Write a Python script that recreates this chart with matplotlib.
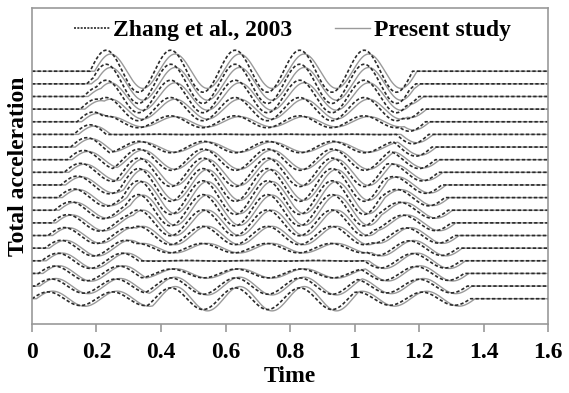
import numpy as np
import matplotlib

matplotlib.use("Agg")
import matplotlib.pyplot as plt
from matplotlib.lines import Line2D

plt.rcParams["font.family"] = ["Liberation Serif", "DejaVu Serif"]
plt.rcParams["font.weight"] = "bold"

# 19 recording levels, top (surface) to bottom, in trace-spacing units
trace_levels = [0, -1, -2, -3, -4, -5, -6, -7, -8, -9, -10, -11, -12, -13, -14, -15, -16, -17, -18]

# arrival times of the up-going and down-going parts of the pulse at each level (s)
up_arrival = [0.18, 0.17, 0.16, 0.15, 0.14, 0.13, 0.12, 0.11, 0.10, 0.09,
              0.08, 0.07, 0.06, 0.05, 0.04, 0.03, 0.02, 0.01, 0.00]
down_arrival = [0.18, 0.19, 0.20, 0.21, 0.22, 0.23, 0.24, 0.25, 0.26, 0.27,
                0.28, 0.29, 0.30, 0.31, 0.32, 0.33, 0.34, 0.35, 0.36]

# wave amplitudes
zhang_up = [0.83, 0.82, 0.80, 0.79, 0.77, 0.76, 0.74, 0.73, 0.71, 0.70,
            0.68, 0.67, 0.65, 0.63, 0.62, 0.60, 0.58, 0.56, 0.54]
zhang_down = [0.83, 0.81, 0.79, 0.77, 0.75, 0.74, 0.72, 0.70, 0.68, 0.66,
              0.65, 0.63, 0.61, 0.60, 0.58, 0.57, 0.55, 0.54, 0.52]
present_up = [0.68, 0.68, 0.67, 0.67, 0.66, 0.66, 0.66, 0.65, 0.65, 0.64,
              0.64, 0.63, 0.63, 0.62, 0.62, 0.61, 0.61, 0.60, 0.60]
present_down = [0.68, 0.68, 0.67, 0.67, 0.66, 0.66, 0.65, 0.65, 0.64, 0.64,
                0.63, 0.63, 0.62, 0.62, 0.61, 0.61, 0.60, 0.60, 0.59]
present_lag = 0.014

pulse_period = 0.2
pulse_cycles = 5

xticks = [0, 0.2, 0.4, 0.6, 0.8, 1.0, 1.2, 1.4, 1.6]
xtick_labels = ["0", "0.2", "0.4", "0.6", "0.8", "1", "1.2", "1.4", "1.6"]

t = np.linspace(0, 1.6, 1601)


def burst(start, amp):
    s = t - start
    on = (s >= 0) & (s <= pulse_cycles * pulse_period)
    return np.where(on, amp * np.sin(2 * np.pi * s / pulse_period), 0.0)


fig = plt.figure(figsize=(5.69, 3.93), dpi=100)
ax = fig.add_axes([0.0562, 0.1756, 0.907, 0.804])

for i, lev in enumerate(trace_levels):
    y_p = lev + burst(up_arrival[i] + present_lag, present_up[i]) + burst(
        down_arrival[i] + present_lag, present_down[i]
    )
    ax.plot(t, y_p, color="#9a9a9a", lw=1.0)

for i, lev in enumerate(trace_levels):
    y_z = lev + burst(up_arrival[i], zhang_up[i]) + burst(down_arrival[i], zhang_down[i])
    ax.plot(t, y_z, color="#2a2a2a", lw=1.2, dashes=(2.0, 1.3))

ax.set_xlim(0, 1.6)
ax.set_ylim(-20, 5)
ax.set_yticks([])
ax.set_xticks(xticks)
ax.set_xticklabels(xtick_labels)
ax.tick_params(axis="x", direction="out", length=6, width=1.2, color="#999999",
               labelsize=17, pad=7)
for sp in ax.spines.values():
    sp.set_color("#999999")
    sp.set_linewidth(1.2)

ax.set_xlabel("Time", fontsize=17, fontweight="bold", labelpad=2)
ax.set_ylabel("Total acceleration", fontsize=17, fontweight="bold", labelpad=2)

handles = [
    Line2D([], [], color="#2a2a2a", lw=1.2, dashes=(1.2, 0.8)),
    Line2D([], [], color="#9a9a9a", lw=1.0),
]
ax.legend(handles, ["Zhang et al., 2003", "Present study"], loc="center",
          bbox_to_anchor=(0.505, 0.93), ncol=2, frameon=False, fontsize=17,
          handlelength=1.5, handletextpad=0.15, columnspacing=1.8)

fig.savefig("out.png", dpi=100)
